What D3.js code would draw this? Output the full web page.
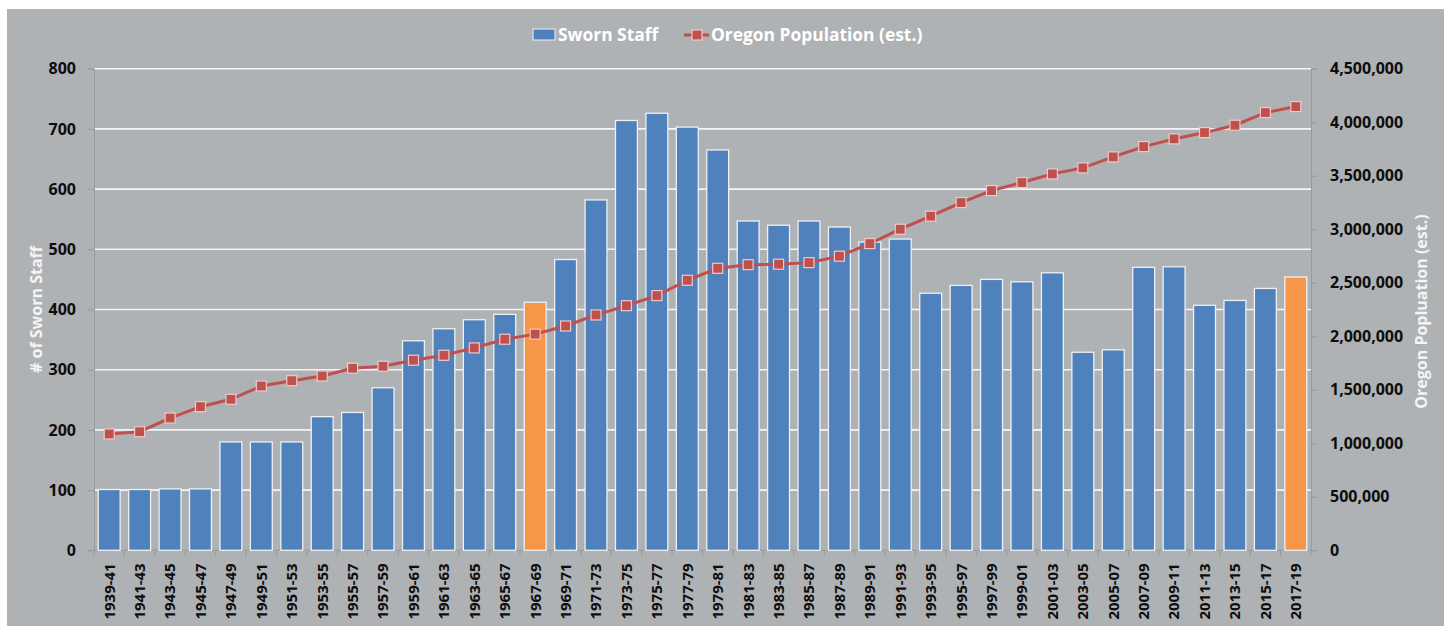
<!DOCTYPE html>
<html>
<head>
<meta charset="utf-8">
<script src="https://cdn.jsdelivr.net/npm/d3@7"></script>
<style>
  html, body { margin: 0; padding: 0; background: #ffffff; }
  svg { display: block; }
  text { font-family: "Open Sans", "DejaVu Sans", sans-serif; }
</style>
</head>
<body>
<svg id="chart" width="1449" height="626"></svg>
<script>
const categories = ["1939-41","1941-43","1943-45","1945-47","1947-49","1949-51","1951-53","1953-55","1955-57","1957-59",
  "1959-61","1961-63","1963-65","1965-67","1967-69","1969-71","1971-73","1973-75","1975-77","1977-79",
  "1979-81","1981-83","1983-85","1985-87","1987-89","1989-91","1991-93","1993-95","1995-97","1997-99",
  "1999-01","2001-03","2003-05","2005-07","2007-09","2009-11","2011-13","2013-15","2015-17","2017-19"];
const swornStaff = [101,101,102,102,180,180,180,222,229,270,
  348,368,383,392,412,483,582,714,726,703,
  665,547,540,547,537,512,517,427,440,450,
  446,461,329,333,470,471,407,415,435,454];
const population = [1087000,1108000,1236000,1342000,1411000,1535000,1585000,1629000,1701000,1720000,
  1776000,1822000,1891000,1972000,2020000,2096000,2199000,2286000,2380000,2523000,
  2635000,2669000,2673000,2688000,2748000,2866000,3000000,3122000,3249000,3361000,
  3436000,3517000,3573000,3676000,3772000,3844000,3903000,3972000,4090000,4146000];
const highlighted = ["1967-69","2017-19"];
const leftTicks = [0,100,200,300,400,500,600,700,800];
const rightTicks = [0,500000,1000000,1500000,2000000,2500000,3000000,3500000,4000000,4500000];
const seriesNames = ["Sworn Staff","Oregon Population (est.)"];
const leftTitle = "# of Sworn Staff";
const rightTitle = "Oregon Popluation (est.)";

const svg = d3.select("#chart");
const L = 94, R = 1311, T = 68.7, B = 550.3;

// background panel
svg.append("rect").attr("x",7).attr("y",9).attr("width",1437).attr("height",617).attr("fill","#afb2b5");

const x = d3.scaleBand().domain(categories).range([L,R]).paddingInner(0.28).paddingOuter(0.14);
const yL = d3.scaleLinear().domain([0,800]).range([B,T]);
const yR = d3.scaleLinear().domain([0,4500000]).range([B,T]);

// gridlines
svg.append("g").selectAll("line").data(leftTicks.slice(1)).join("line")
  .attr("x1",L).attr("x2",R).attr("y1",d=>yL(d)).attr("y2",d=>yL(d))
  .attr("stroke","#f4f4f4").attr("stroke-width",1.6);

// axes
const axisColor = "#989a9c";
const gL = svg.append("g").attr("transform",`translate(${L},0)`)
  .call(d3.axisLeft(yL).tickValues(leftTicks).tickSize(6).tickPadding(12).tickFormat(d3.format("d")));
const gR = svg.append("g").attr("transform",`translate(${R},0)`)
  .call(d3.axisRight(yR).tickValues(rightTicks).tickSize(6).tickPadding(13).tickFormat(d3.format(",")));
[gL,gR].forEach(g=>{
  g.select(".domain").attr("stroke",axisColor).attr("stroke-width",1);
  g.selectAll(".tick line").attr("stroke",axisColor);
  g.selectAll(".tick text").attr("fill","#0d0d0d").attr("font-size",16).attr("font-weight",700);
});

// bottom axis with ticks at band boundaries
const gX = svg.append("g").attr("transform",`translate(0,${B})`);
gX.append("line").attr("x1",L).attr("x2",R).attr("y1",0).attr("y2",0).attr("stroke",axisColor);
const bounds = categories.map((c,i)=> i===0 ? L : (x(categories[i-1]) + x.bandwidth() + x(c))/2).concat([R]);
gX.selectAll("line.tk").data(bounds).join("line").attr("class","tk")
  .attr("x1",d=>d).attr("x2",d=>d).attr("y1",0).attr("y2",6).attr("stroke",axisColor);
gX.selectAll("text").data(categories).join("text")
  .attr("transform",d=>`translate(${x(d)+x.bandwidth()/2},13) rotate(-90)`)
  .attr("text-anchor","end").attr("dy","0.36em")
  .attr("fill","#0d0d0d").attr("font-size",15).attr("font-weight",700)
  .text(d=>d);

// bars
svg.append("g").selectAll("rect").data(categories).join("rect")
  .attr("x",d=>x(d)).attr("width",x.bandwidth())
  .attr("y",(d,i)=>yL(swornStaff[i])).attr("height",(d,i)=>B-yL(swornStaff[i]))
  .attr("fill",d=>highlighted.includes(d) ? "#f79646" : "#4f81bd")
  .attr("stroke","#eef0f4").attr("stroke-width",1.3);

// line
const line = d3.line().x((d,i)=>x(categories[i])+x.bandwidth()/2).y(d=>yR(d));
svg.append("path").datum(population).attr("d",line)
  .attr("fill","none").attr("stroke","#c0504d").attr("stroke-width",3);
svg.append("g").selectAll("rect").data(population).join("rect")
  .attr("x",(d,i)=>x(categories[i])+x.bandwidth()/2-5).attr("y",d=>yR(d)-5)
  .attr("width",10).attr("height",10)
  .attr("fill","#c0504d").attr("stroke","#efc9c8").attr("stroke-width",1.2);

// axis titles
svg.append("text").attr("transform",`translate(36,${(T+B)/2}) rotate(-90)`)
  .attr("text-anchor","middle").attr("dy","0.35em")
  .attr("fill","#f4f4f4").attr("font-size",16).attr("font-weight",700).text(leftTitle);
svg.append("text").attr("transform",`translate(1421,${(T+B)/2+2}) rotate(-90)`)
  .attr("text-anchor","middle").attr("dy","0.35em")
  .attr("fill","#f4f4f4").attr("font-size",16).attr("font-weight",700).text(rightTitle);

// legend
const lg = svg.append("g");
lg.append("rect").attr("x",533).attr("y",29).attr("width",22).attr("height",11)
  .attr("fill","#4f81bd").attr("stroke","#eef0f4").attr("stroke-width",1);
lg.append("text").attr("x",558).attr("y",35).attr("dy","0.35em")
  .attr("fill","#ffffff").attr("font-size",17.4).attr("font-weight",700).text(seriesNames[0]);
lg.append("line").attr("x1",684).attr("x2",709).attr("y1",35).attr("y2",35)
  .attr("stroke","#c0504d").attr("stroke-width",3);
lg.append("rect").attr("x",692).attr("y",30).attr("width",10).attr("height",10)
  .attr("fill","#c0504d").attr("stroke","#efc9c8").attr("stroke-width",1.2);
lg.append("text").attr("x",711).attr("y",35).attr("dy","0.35em")
  .attr("fill","#ffffff").attr("font-size",17.4).attr("font-weight",700).text(seriesNames[1]);
</script>
</body>
</html>
